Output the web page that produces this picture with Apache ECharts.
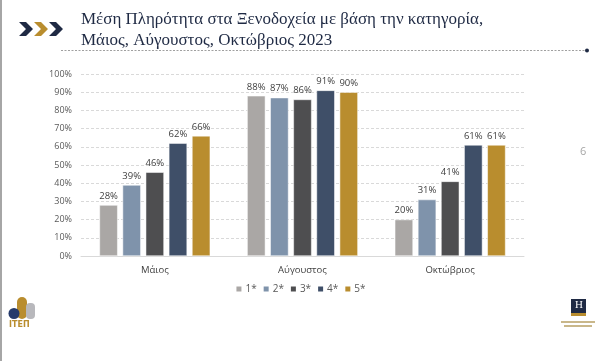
<!DOCTYPE html>
<html>
<head>
<meta charset="utf-8">
<script src="https://cdn.jsdelivr.net/npm/echarts@6/dist/echarts.min.js"></script>
<style>html,body{margin:0;padding:0;background:#fff;}#c{width:600px;height:361px;}</style>
</head>
<body>
<div id="c"></div>
<script>
var categories = ['Μάιος', 'Αύγουστος', 'Οκτώβριος'];
var seriesNames = ['1*', '2*', '3*', '4*', '5*'];
var s1 = [28, 88, 20];
var s2 = [39, 87, 31];
var s3 = [46, 86, 41];
var s4 = [62, 91, 61];
var s5 = [66, 90, 61];
var seriesValues = [s1, s2, s3, s4, s5];
var colors = ['#AAA7A5', '#7F93AB', '#4E4E50', '#3F4F68', '#B98D2E'];
var titleText = 'Μέση Πληρότητα στα Ξενοδοχεία με βάση την κατηγορία,\nΜάιος, Αύγουστος, Οκτώβριος 2023';

var chart = echarts.init(document.getElementById('c'), null, {renderer: 'canvas'});
var font = 'Open Sans';
var series = seriesNames.map(function (n, i) {
  return {
    name: n,
    type: 'bar',
    data: seriesValues[i],
    barGap: '27%',
    barCategoryGap: '25%',
    itemStyle: {color: colors[i], borderColor: '#fff', borderWidth: 0.5},
    label: {show: true, position: 'top', distance: 4, formatter: '{c}%', fontFamily: font, fontSize: 9.5, color: '#404040'}
  };
});

function chevron(x, color) {
  return {
    type: 'polygon',
    shape: {points: [[x, 22], [x + 7, 22], [x + 14, 29], [x + 7, 36], [x, 36], [x + 7, 29]]},
    style: {fill: color}
  };
}

chart.setOption({
  animation: false,
  backgroundColor: '#fff',
  color: colors,
  title: {
    text: titleText,
    left: 76, top: 4,
    textStyle: {fontFamily: 'Liberation Serif', fontSize: 17, fontWeight: 'normal', color: '#1F2A44', lineHeight: 21}
  },
  grid: {left: 81, right: 76, top: 74, bottom: 105},
  legend: {
    data: seriesNames,
    bottom: 62, left: 'center',
    itemWidth: 7, itemHeight: 7, itemGap: 5,
    icon: 'rect',
    textStyle: {fontFamily: font, fontSize: 10, color: '#595959', padding: [0, 0, 0, -2]}
  },
  xAxis: {
    type: 'category',
    data: categories,
    axisLine: {lineStyle: {color: '#D9D9D9'}},
    axisTick: {show: false},
    axisLabel: {fontFamily: font, fontSize: 9.5, color: '#404040', margin: 9}
  },
  yAxis: {
    type: 'value',
    min: 0, max: 100, interval: 10,
    axisLine: {show: false},
    axisTick: {show: false},
    axisLabel: {formatter: '{value}%', fontFamily: font, fontSize: 9, color: '#595959', margin: 9},
    splitLine: {lineStyle: {color: '#D9D9D9', type: [3, 2]}}
  },
  series: series,
  graphic: [
    {type: 'line', shape: {x1: 1, y1: 0, x2: 1, y2: 361}, style: {stroke: '#A6A6A6', lineWidth: 2}},
    chevron(19, '#1F2A44'),
    chevron(34, '#B98D2E'),
    chevron(49, '#1F2A44'),
    {type: 'line', shape: {x1: 61, y1: 50.5, x2: 585, y2: 50.5}, style: {stroke: '#A0A0A0', lineWidth: 1, lineDash: [2, 1.5]}},
    {type: 'circle', shape: {cx: 587, cy: 50.5, r: 2}, style: {fill: '#1F2A44'}},
    {type: 'text', left: 580, top: 146, style: {text: '6', fontFamily: font, fontSize: 11, fill: '#A6A6A6'}},
    // ITEP logo
    {type: 'rect', shape: {x: 17, y: 297, width: 10, height: 22, r: 5}, style: {fill: '#B98D2E'}},
    {type: 'rect', shape: {x: 26, y: 303, width: 9, height: 16, r: 4}, style: {fill: '#B8B8BC'}},
    {type: 'circle', shape: {cx: 14, cy: 313.5, r: 5.5}, style: {fill: '#253A6B'}},
    {type: 'text', left: 9, top: 321, style: {text: 'ITEΠ', fontFamily: 'DejaVu Sans', fontWeight: 'bold', fontSize: 8, fill: '#B98D2E'}},
    // H logo
    {type: 'rect', shape: {x: 571, y: 299, width: 15, height: 14}, style: {fill: '#1F2A44'}},
    {type: 'rect', shape: {x: 571, y: 313, width: 15, height: 3}, style: {fill: '#B98D2E'}},
    {type: 'text', left: 575, top: 300, style: {text: 'H', fontFamily: 'Liberation Serif', fontSize: 11, fill: '#fff'}},
    {type: 'rect', shape: {x: 561, y: 321, width: 34, height: 2}, style: {fill: '#C9B78A'}},
    {type: 'rect', shape: {x: 564, y: 325, width: 28, height: 2}, style: {fill: '#C9B78A'}}
  ]
});
</script>
</body>
</html>
